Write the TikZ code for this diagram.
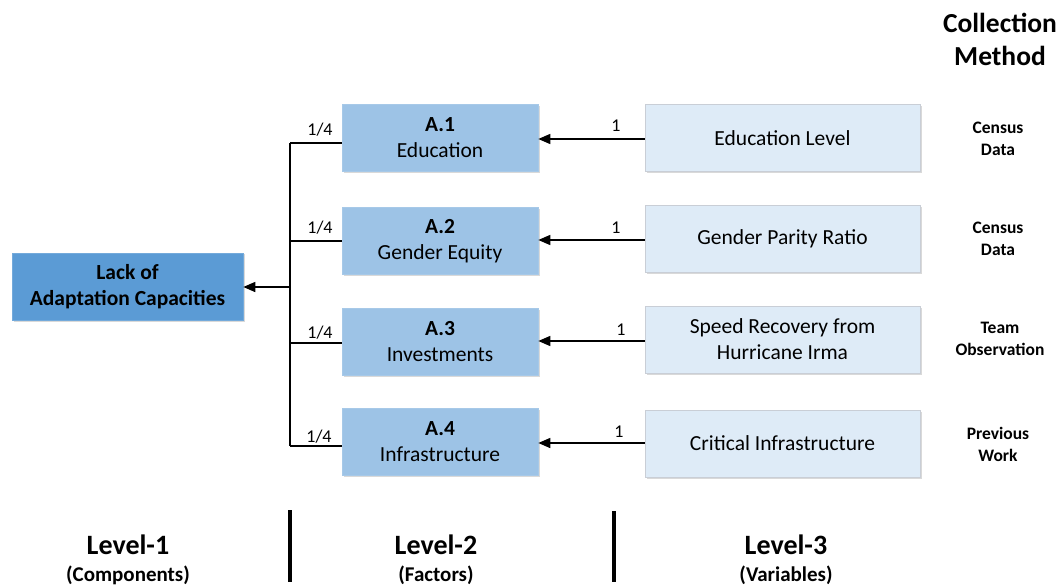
\documentclass[tikz,border=0pt]{standalone}
\usepackage{fontspec}
\setmainfont{Carlito}
\usetikzlibrary{arrows.meta,shadows}
\definecolor{darkblue}{HTML}{5B9BD5}
\definecolor{midblue}{HTML}{9DC3E6}
\definecolor{paleblue}{HTML}{DEEBF7}
\definecolor{paleedge}{HTML}{C9CED6}
\tikzset{
  boxshadow/.style={drop shadow={shadow xshift=1.5pt,shadow yshift=-1.5pt,fill=black,opacity=0.15}},
  topbox/.style={fill=darkblue,draw=darkblue!85!white,line width=0.6pt,minimum width=231pt,minimum height=67pt,inner sep=0pt,align=center,font=\fontsize{21.5}{26}\selectfont\bfseries,boxshadow},
  factorbox/.style={fill=midblue,draw=midblue!90!white,line width=0.6pt,minimum width=196pt,minimum height=67pt,inner sep=0pt,align=center,font=\fontsize{21.5}{26}\selectfont,boxshadow},
  varbox/.style={fill=paleblue,draw=paleedge,line width=1pt,minimum width=275pt,minimum height=67pt,inner sep=0pt,align=center,font=\fontsize{21.5}{26}\selectfont,boxshadow},
  conn/.style={line width=1.5pt,black},
  arr/.style={conn,-{Triangle[length=12pt,width=10pt]}},
  wlabel/.style={font=\fontsize{18}{20}\selectfont,inner sep=1pt},
  method/.style={font=\fontsize{17.5}{22}\selectfont\bfseries,align=center},
  levelhead/.style={font=\fontsize{28}{30}\selectfont\bfseries},
  levelsub/.style={font=\fontsize{21}{24}\selectfont\bfseries},
  bar/.style={line width=4pt,black}
}
\begin{document}
\begin{tikzpicture}[x=1pt,y=-1pt]
\useasboundingbox (0,0) rectangle (1063,588);
% Level-1
\node[topbox] (lack) at (127.5,286.5) {Lack of\\Adaptation Capacities};
% Level-2
\node[factorbox] (a1) at (440,138) {\textbf{A.1}\\Education};
\node[factorbox] (a2) at (440,241) {\textbf{A.2}\\Gender Equity};
\node[factorbox] (a3) at (440,341.5) {\textbf{A.3}\\Investments};
\node[factorbox] (a4) at (440,441.5) {\textbf{A.4}\\Infrastructure};
% Level-3
\node[varbox] (v1) at (782.5,138) {Education Level};
\node[varbox] (v2) at (782.5,239) {Gender Parity Ratio};
\node[varbox] (v3) at (782.5,339.5) {Speed Recovery from\\Hurricane Irma};
\node[varbox] (v4) at (782.5,443.5) {Critical Infrastructure};
% bus
\coordinate (bt) at (290,143);
\coordinate (bb) at (290,446);
\coordinate (bm) at (290,287);
\draw[conn] (bt) -- (bb);
\draw[conn] (bt) -- (a1.west |- bt);
\draw[conn] (290,241) -- (a2.west |- 0,241);
\draw[conn] (290,343) -- (a3.west |- 0,343);
\draw[conn] (bb) -- (a4.west |- bb);
\draw[arr] (bm) -- (lack.east |- bm);
\node[wlabel] (w1) at (320,130) {1/4};
\node[wlabel] (w2) at (320,228) {1/4};
\node[wlabel] (w3) at (320,333) {1/4};
\node[wlabel] (w4) at (319,437) {1/4};
% arrows from variables
\draw[arr] (v1.west |- 0,139) -- (a1.east |- 0,139);
\draw[arr] (v2.west |- 0,240) -- (a2.east |- 0,240);
\draw[arr] (v3.west |- 0,341) -- (a3.east |- 0,341);
\draw[arr] (v4.west |- 0,443) -- (a4.east |- 0,443);
\node[wlabel] (o1) at (616,126) {1};
\node[wlabel] (o2) at (616,228) {1};
\node[wlabel] (o3) at (621,330) {1};
\node[wlabel] (o4) at (619,432) {1};
% collection method
\node[font=\fontsize{27.5}{33}\selectfont\bfseries,align=center] (cm) at (1000,39) {Collection\\Method};
\node[method] (m1) at (998,139) {Census\\Data};
\node[method] (m2) at (998,239) {Census\\Data};
\node[method] (m3) at (1000,339) {Team\\Observation};
\node[method] (m4) at (998,444) {Previous\\Work};
% levels
\node[levelhead] (l1) at (128,545) {Level-1};
\node[levelsub] (s1) at (128,575) {(Components)};
\node[levelhead] (l2) at (436,545) {Level-2};
\node[levelsub] (s2) at (436,575) {(Factors)};
\node[levelhead] (l3) at (786,545) {Level-3};
\node[levelsub] (s3) at (786,575) {(Variables)};
\coordinate (d1t) at (290,510);
\coordinate (d1b) at (290,582);
\coordinate (d2t) at (614,511);
\coordinate (d2b) at (614,582);
\draw[bar] (d1t) -- (d1b);
\draw[bar] (d2t) -- (d2b);
\end{tikzpicture}
\end{document}
